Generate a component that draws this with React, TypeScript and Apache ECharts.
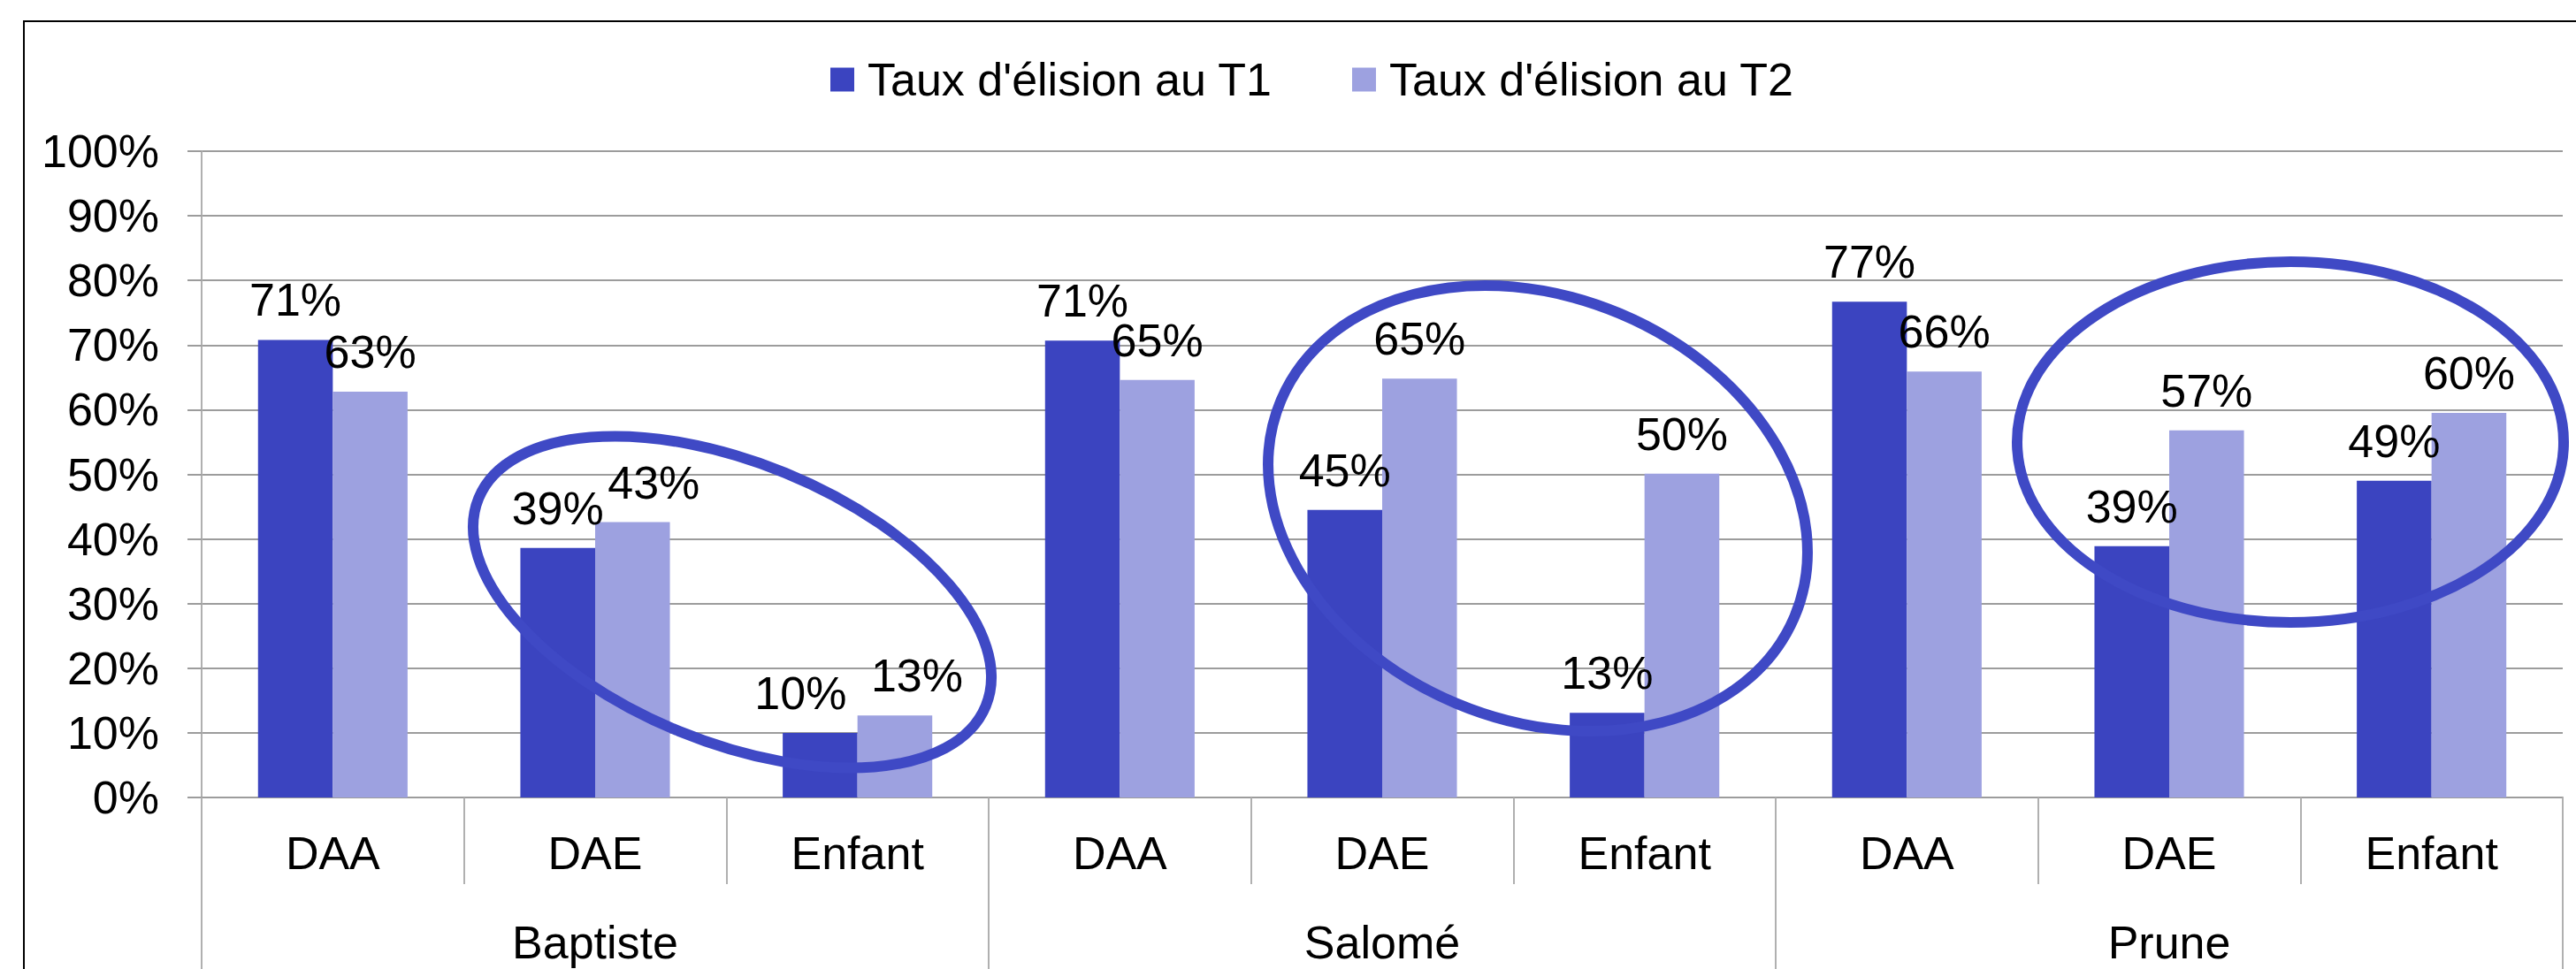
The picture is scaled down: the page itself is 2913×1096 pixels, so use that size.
import React, { useEffect, useRef } from "react";
import * as echarts from "echarts";

const categories = ["DAA", "DAE", "Enfant", "DAA", "DAE", "Enfant", "DAA", "DAE", "Enfant"];
const groups = ["Baptiste", "Salomé", "Prune"];
const seriesNames = ["Taux d'élision au T1", "Taux d'élision au T2"];
const t1Values = [70.8, 38.6, 10.0, 70.7, 44.5, 13.1, 76.7, 38.9, 49.0];
const t2Values = [62.8, 42.6, 12.7, 64.6, 64.8, 50.1, 65.9, 56.8, 59.5];
const yMin = 0;
const yMax = 100;
const yInterval = 10;

const FONT = "'Liberation Sans', Arial, Helvetica, sans-serif";
const FS = 52;
const DARK = "#3B44C0";
const LIGHT = "#9DA1E0";
const RING = "#3F49C5";
const GRID_GRAY = "#9c9c9c";
const AXIS_GRAY = "#b0b0b0";

// horizontal nudges the original applied to crowded labels (series index -> category index -> px)
const labelNudge: Record<number, Record<number, number>> = {
  0: { 2: -22 },
  1: { 1: 24, 2: 25 },
};

export default function App() {
  const ref = useRef<HTMLDivElement>(null);

  useEffect(() => {
    if (!ref.current) return;
    const chart = echarts.init(ref.current, null, { renderer: "svg" });
    const deg = Math.PI / 180;
    const labelCfg = {
      show: true,
      position: "top",
      distance: 19,
      color: "#000",
      fontSize: FS,
      fontFamily: FONT,
      formatter: (p: any) => Math.round(p.value) + "%",
    };
    const withNudges = (vals: number[], si: number) =>
      vals.map((v, i) => {
        const dx = labelNudge[si] && labelNudge[si][i];
        return dx ? { value: v, label: { offset: [dx, 0] } } : v;
      });
    chart.setOption({
      animation: false,
      backgroundColor: "#fff",
      textStyle: { fontFamily: FONT },
      legend: {
        left: 934,
        top: 59,
        itemWidth: 27,
        itemHeight: 27,
        itemGap: 90,
        icon: "rect",
        textStyle: { fontSize: FS, color: "#000", fontFamily: FONT, padding: [0, 0, 0, 10] },
        data: seriesNames,
      },
      grid: { left: 228, top: 171, right: 15, bottom: 194, containLabel: false },
      xAxis: [
        {
          type: "category",
          data: categories,
          position: "bottom",
          axisLine: { show: true, lineStyle: { color: GRID_GRAY, width: 2 } },
          axisTick: { show: true, interval: 0, length: 98, lineStyle: { color: AXIS_GRAY, width: 2 } },
          axisLabel: { interval: 0, margin: 37, fontSize: FS, color: "#000", fontFamily: FONT },
          splitLine: { show: false },
        },
        {
          type: "category",
          data: groups,
          position: "bottom",
          axisLine: { show: false },
          axisTick: { show: true, interval: 0, length: 200, lineStyle: { color: AXIS_GRAY, width: 2 } },
          axisLabel: { interval: 0, margin: 138, fontSize: FS, color: "#000", fontFamily: FONT },
          splitLine: { show: false },
        },
      ],
      yAxis: {
        type: "value",
        min: yMin,
        max: yMax,
        interval: yInterval,
        axisLine: { show: true, lineStyle: { color: AXIS_GRAY, width: 2 } },
        axisTick: { show: true, length: 16, lineStyle: { color: GRID_GRAY, width: 2 } },
        axisLabel: { margin: 48, fontSize: FS, color: "#000", fontFamily: FONT, formatter: "{value}%" },
        splitLine: { show: true, lineStyle: { color: GRID_GRAY, width: 2 } },
      },
      series: [
        {
          name: seriesNames[0],
          type: "bar",
          data: withNudges(t1Values, 0),
          itemStyle: { color: DARK },
          barGap: "0%",
          barCategoryGap: "43%",
          label: labelCfg,
        },
        {
          name: seriesNames[1],
          type: "bar",
          data: withNudges(t2Values, 1),
          itemStyle: { color: LIGHT },
          barGap: "0%",
          barCategoryGap: "43%",
          label: labelCfg,
        },
      ],
      graphic: [
        {
          type: "rect",
          silent: true,
          z: 0,
          shape: { x: 27, y: 24, width: 3000, height: 1200 },
          style: { fill: "none", stroke: "#000", lineWidth: 2 },
        },
        {
          type: "ellipse",
          silent: true,
          z: 100,
          x: 828,
          y: 681,
          rotation: -22.3 * deg,
          shape: { cx: 0, cy: 0, rx: 310, ry: 158 },
          style: { fill: "none", stroke: RING, lineWidth: 12 },
        },
        {
          type: "ellipse",
          silent: true,
          z: 100,
          x: 1739,
          y: 575,
          rotation: -22.8 * deg,
          shape: { cx: 0, cy: 0, rx: 315, ry: 239 },
          style: { fill: "none", stroke: RING, lineWidth: 12 },
        },
        {
          type: "ellipse",
          silent: true,
          z: 100,
          x: 2590,
          y: 500,
          rotation: 0,
          shape: { cx: 0, cy: 0, rx: 309, ry: 204 },
          style: { fill: "none", stroke: RING, lineWidth: 12 },
        },
      ],
    });
    return () => chart.dispose();
  }, []);

  return (
    <div
      ref={ref}
      style={{ position: "fixed", left: 0, top: 0, width: 2913, height: 1096, background: "#fff" }}
    />
  );
}
